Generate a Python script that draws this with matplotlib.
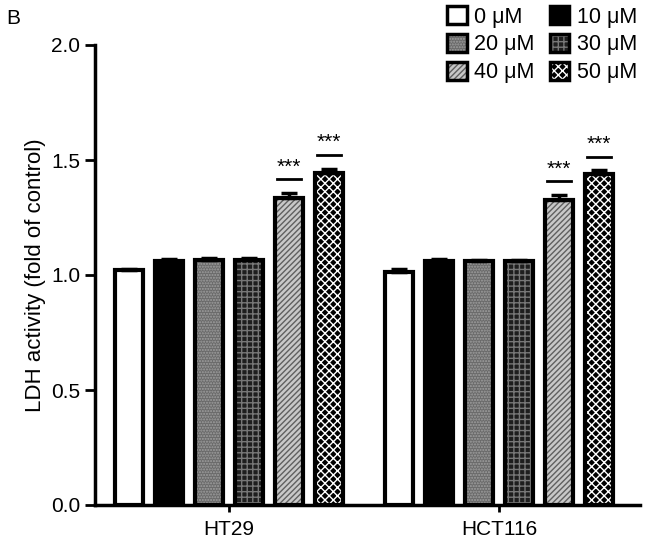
import numpy as np
import matplotlib
matplotlib.use("Agg")
import matplotlib.pyplot as plt
from matplotlib.patches import Patch
from matplotlib.legend_handler import HandlerTuple

plt.rcParams['font.family'] = ['Liberation Sans', 'DejaVu Sans']
plt.rcParams['hatch.linewidth'] = 1.0

# data
cells = ["HT29", "HCT116"]
doses = ["0 \u03bcM", "10 \u03bcM", "20 \u03bcM", "30 \u03bcM", "40 \u03bcM", "50 \u03bcM"]
ht29_mean = [1.02, 1.06, 1.065, 1.065, 1.335, 1.445]
ht29_err = [0.008, 0.008, 0.008, 0.010, 0.022, 0.018]
hct116_mean = [1.015, 1.06, 1.06, 1.06, 1.325, 1.44]
hct116_err = [0.010, 0.008, 0.006, 0.006, 0.022, 0.015]
sig_doses = [4, 5]  # bars marked ***

means = np.array([ht29_mean, hct116_mean])
errs = np.array([ht29_err, hct116_err])

# (face, hatch, hatch colour) for each dose
styles = [
    ("white", "", "white"),
    ("black", "", "black"),
    ("#6a6a6a", "......", "#a0a0a0"),
    ("#1e1e1e", "+++", "#777777"),
    ("#c8c8c8", "//////", "#606060"),
    ("black", "xxxx", "white"),
]

fig = plt.figure(figsize=(6.46, 5.47), dpi=100)
ax = fig.add_axes([95 / 646, 42 / 547, 545 / 646, 460 / 547])

step = 0.148
width = 0.105
group_x = np.arange(len(cells))
offsets = (np.arange(len(doses)) - 2.5) * step

for i, (face, hatch, hc) in enumerate(styles):
    xs = group_x + offsets[i]
    ax.bar(xs, means[:, i], width, color=face, hatch=hatch, edgecolor=hc,
           linewidth=0, zorder=2)
    ax.bar(xs, means[:, i], width, fill=False, edgecolor="black",
           linewidth=3, zorder=3)
    ax.errorbar(xs, means[:, i], yerr=[np.zeros(len(cells)), errs[:, i]],
                fmt="none", ecolor="black", elinewidth=2.5, capsize=6,
                capthick=2.5, zorder=4)

# significance marks
for g in range(len(cells)):
    for i in sig_doses:
        x = group_x[g] + offsets[i]
        top = means[g, i] + errs[g, i] + 0.06
        ax.plot([x - 0.045, x + 0.045], [top, top], color="black", lw=2)
        ax.text(x, top + 0.012, "***", ha="center", va="bottom", fontsize=15)

ax.set_xlim(-0.496, 1.522)
ax.set_ylim(0, 2.0)
ax.set_yticks([0, 0.5, 1.0, 1.5, 2.0])
ax.set_yticklabels(["0.0", "0.5", "1.0", "1.5", "2.0"])
ax.set_xticks(group_x)
ax.set_xticklabels(cells)
ax.set_ylabel("LDH activity (fold of control)", fontsize=16, labelpad=4)
ax.tick_params(axis="both", labelsize=15, width=2)
ax.tick_params(axis="y", length=7)
ax.tick_params(axis="x", length=5, pad=6)
for s in ["top", "right"]:
    ax.spines[s].set_visible(False)
for s in ["left", "bottom"]:
    ax.spines[s].set_linewidth(2.5)

handles = []
for face, hatch, hc in styles:
    handles.append((Patch(facecolor=face, hatch=hatch, edgecolor=hc, linewidth=0),
                    Patch(fill=False, edgecolor="black", linewidth=2.5)))
order = [0, 2, 4, 1, 3, 5]
fig.legend([handles[k] for k in order], [doses[k] for k in order],
           handler_map={tuple: HandlerTuple(ndivide=1)},
           loc="upper right", bbox_to_anchor=(1.016, 1.024), ncol=2,
           frameon=False, fontsize=15.5, handlelength=0.9, handleheight=0.9,
           handletextpad=0.35, columnspacing=0.7, labelspacing=0.3)

fig.text(6 / 646, 1 - 18 / 547, "B", fontsize=15, va="center")

fig.savefig("out.png", dpi=100)
